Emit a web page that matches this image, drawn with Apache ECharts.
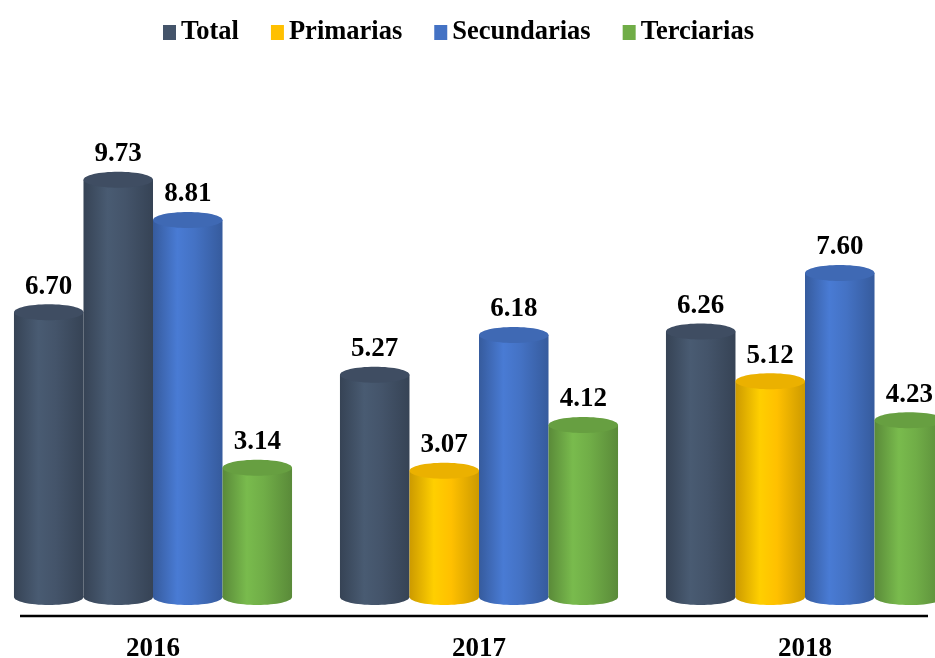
<!DOCTYPE html>
<html>
<head>
<meta charset="utf-8">
<script src="https://cdn.jsdelivr.net/npm/echarts@6/dist/echarts.min.js"></script>
<style>
  html, body { margin: 0; padding: 0; background: #fff; }
  #chart { width: 935px; height: 658px; }
</style>
</head>
<body>
<div id="chart"></div>
<script>
// datos del gráfico
const years = ["2016", "2017", "2018"];
const total = [6.70, 5.27, 6.26];
const primarias = [9.73, 3.07, 5.12];
const secundarias = [8.81, 6.18, 7.60];
const terciarias = [3.14, 4.12, 4.23];

const COLORS = {
  total: "#44546A",
  primarias: "#FFC000",
  secundarias: "#4472C4",
  terciarias: "#70AD47",
};
const FONT = "Liberation Serif, Times New Roman, serif";
const SERIES_COUNT = 4;
const BAR_SHARE = 0.853; // parte de la categoría ocupada por las 4 barras

// aclara / oscurece un color hex
function shade(hex, f) {
  const n = parseInt(hex.replace("#", ""), 16);
  const ch = [(n >> 16) & 255, (n >> 8) & 255, n & 255].map(function (v) {
    return Math.max(0, Math.min(255, Math.round(v * f)));
  });
  return "rgb(" + ch.join(",") + ")";
}

// cilindro: cuerpo + elipse inferior + tapa + etiqueta
function renderCylinder(params, api) {
  const cat = api.value(0);
  const val = api.value(1);
  const bandW = api.size([1, 0])[0];
  const w = (bandW * BAR_SHARE) / SERIES_COUNT;
  const base = api.coord([cat, 0]);
  const cx = base[0] + (params.seriesIndex - (SERIES_COUNT - 1) / 2) * w;
  const yTop = api.coord([cat, val])[1];
  const yBase = base[1];
  const rx = w / 2;
  const ry = 8;
  const color = api.visual("color");
  const body = {
    type: "linear", x: 0, y: 0, x2: 1, y2: 0,
    colorStops: [
      { offset: 0, color: shade(color, 0.8) },
      { offset: 0.35, color: shade(color, 1.08) },
      { offset: 0.6, color: shade(color, 1.0) },
      { offset: 1, color: shade(color, 0.8) },
    ],
  };
  return {
    type: "group",
    children: [
      { type: "rect", shape: { x: cx - rx, y: yTop, width: w, height: yBase - ry - yTop }, style: { fill: body } },
      { type: "ellipse", shape: { cx: cx, cy: yBase - ry, rx: rx, ry: ry }, style: { fill: body } },
      { type: "ellipse", shape: { cx: cx, cy: yTop, rx: rx, ry: ry }, style: { fill: shade(color, 0.92) } },
      {
        type: "text",
        style: {
          text: val.toFixed(2),
          x: cx,
          y: yTop - ry - 4,
          align: "center",
          verticalAlign: "bottom",
          font: "bold 27px " + FONT,
          fill: "#000",
        },
      },
    ],
  };
}

function toData(arr) {
  return arr.map(function (v, i) { return [i, v]; });
}

// en el original la barra de Primarias 2016 aparece con el color de Total
const primariasData = toData(primarias);
primariasData[0] = { value: [0, primarias[0]], itemStyle: { color: COLORS.total } };

function cylSeries(name, color, data) {
  return {
    name: name,
    type: "custom",
    renderItem: renderCylinder,
    itemStyle: { color: color },
    encode: { x: 0, y: 1 },
    data: data,
    animation: false,
  };
}

const option = {
  backgroundColor: "#fff",
  legend: {
    left: 158,
    top: 14,
    icon: "rect",
    itemWidth: 13,
    itemHeight: 15,
    itemGap: 32,
    textStyle: { fontFamily: FONT, fontWeight: "bold", fontSize: 26.5, color: "#000" },
    data: ["Total", "Primarias", "Secundarias", "Terciarias"],
  },
  grid: { left: -10, right: -33, top: 168, bottom: 53, outerBoundsMode: "none", containLabel: false },
  xAxis: {
    type: "category",
    data: years,
    axisLine: { show: false },
    axisTick: { show: false },
    axisLabel: { margin: 31, fontFamily: FONT, fontWeight: "bold", fontSize: 27, color: "#000" },
  },
  yAxis: { type: "value", min: 0, max: 10, show: false, splitLine: { show: false } },
  graphic: [
    { type: "line", shape: { x1: 20, y1: 616, x2: 928, y2: 616 }, style: { stroke: "#000", lineWidth: 2.5 } },
  ],
  series: [
    cylSeries("Total", COLORS.total, toData(total)),
    cylSeries("Primarias", COLORS.primarias, primariasData),
    cylSeries("Secundarias", COLORS.secundarias, toData(secundarias)),
    cylSeries("Terciarias", COLORS.terciarias, toData(terciarias)),
  ],
};

const chart = echarts.init(document.getElementById("chart"));
chart.setOption(option);
</script>
</body>
</html>
